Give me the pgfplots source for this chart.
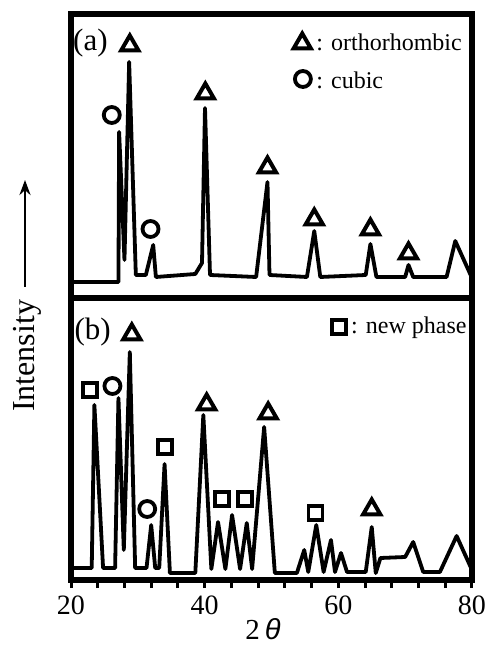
\documentclass[border=0pt]{standalone}
\usepackage{pgfplots}
\pgfplotsset{compat=1.18}
\usetikzlibrary{arrows.meta}
\usepackage{fontspec}
\setmainfont{Liberation Serif}
\newfontfamily\sansit{Liberation Sans}
\begin{document}
\begin{tikzpicture}
\path[use as bounding box] (0pt,0pt) rectangle (485pt,648pt);
\pgfplotsset{
  panel/.style={width=401pt, scale only axis, xmin=20, xmax=80, ymin=0,
    axis line style={line width=5.5pt, line cap=rect}, ytick=\empty, clip=false,
    anchor=south west},
  dat/.style={black, line width=3.8pt, line join=round},
  tri/.style={only marks, mark=triangle, mark size=10pt, mark options={black, line width=4pt, fill=none}},
  cir/.style={only marks, mark=o, mark size=8pt, mark options={black, line width=3.8pt}},
  sqr/.style={only marks, mark=square, mark size=7pt, mark options={black, line width=3.6pt}},
}
% ---------------- panel (a) ----------------
\begin{axis}[panel, at={(71pt,350pt)}, height=284pt, ymax=284, xtick=\empty]
\addplot[dat] coordinates {
(20,16) (27.1,16) (27.2,166) (28.0,38) (28.7,236) (29.7,23) (31.2,23) (32.3,53)
(32.7,21) (38.6,24) (39.6,35) (40.05,190) (40.8,23) (47.7,21) (49.4,116) (49.7,23)
(55.3,21) (56.4,67) (57.3,21) (64.1,23) (64.8,54) (65.7,21) (70.0,21) (70.5,33)
(71.2,21) (76.2,21) (77.5,57) (80,20)};
\addplot[tri] coordinates {(28.8,252.5) (40.1,204.5) (49.4,130.5) (56.4,78.5) (64.8,68.5) (70.5,44.5) (54.6,254.5)};
\addplot[cir] coordinates {(26.1,183) (31.9,69) (54.7,219)};
\node[anchor=west, font=\fontsize{31}{33}\selectfont, inner sep=0pt] at (axis cs:20.3,255) {(a)};
\node[anchor=west, font=\fontsize{24}{26}\selectfont, inner sep=0pt] at (axis cs:56.7,256) {: orthorhombic};
\node[anchor=west, font=\fontsize{24}{26}\selectfont, inner sep=0pt] at (axis cs:56.7,218) {: cubic};
\end{axis}
% ---------------- panel (b) ----------------
\begin{axis}[panel, at={(71pt,68pt)}, height=282pt, ymax=282,
  xtick={20,40,60,80}, minor xtick={24,28,32,36,44,48,52,56,64,68,72,76},
  xtick pos=left, xtick align=outside,
  major tick length=8pt, minor tick length=8pt,
  tick style={black, line width=3pt},
  xticklabel style={font=\fontsize{28}{30}\selectfont, yshift=-4pt},
  /pgf/number format/assume math mode=true]
\addplot[dat] coordinates {
(20,12) (23.1,12) (23.5,175) (24.8,12) (26.6,12) (27.1,182) (27.9,30) (28.8,228)
(29.6,12) (31.3,12) (32.0,55) (32.6,12) (33.2,12) (34.0,116) (34.8,7) (38.6,7)
(39.8,165) (41.0,11) (42.0,58) (43.1,11) (44.1,65) (45.3,11) (46.3,57) (47.1,11)
(48.9,153) (50.5,7) (53.8,7) (54.9,30) (55.5,8) (56.7,55) (57.8,8) (58.9,40)
(59.5,8) (60.4,27) (61.3,8) (64.1,8) (65.0,53) (65.6,7) (66.3,22) (70.0,23)
(71.2,38) (72.7,8) (75.2,8) (77.7,44) (80,10)};
\addplot[tri] coordinates {(29.1,245.5) (40.3,175.5) (49.5,166.5) (65.0,70.5)};
\addplot[cir] coordinates {(26.2,194) (31.4,71)};
\addplot[sqr] coordinates {(22.8,190) (34.1,133) (42.6,81) (46.0,81) (56.6,67) (60.1,253)};
\node[anchor=west, font=\fontsize{31}{33}\selectfont, inner sep=0pt] at (axis cs:20.5,248) {(b)};
\node[anchor=west, font=\fontsize{24}{26}\selectfont, inner sep=0pt] at (axis cs:61.9,252) {: new phase};
\end{axis}
% axis labels
\node[rotate=90, font=\fontsize{32}{34}\selectfont] at (27pt,292pt) {Intensity};
\draw[line width=2.6pt, -{Stealth[length=15pt,width=11pt]}] (25pt,361pt) -- (25pt,468pt);
\node[font=\fontsize{29}{30}\selectfont] at (263pt,19pt) {2\,{\sansit\itshape θ}};
\end{tikzpicture}
\end{document}
